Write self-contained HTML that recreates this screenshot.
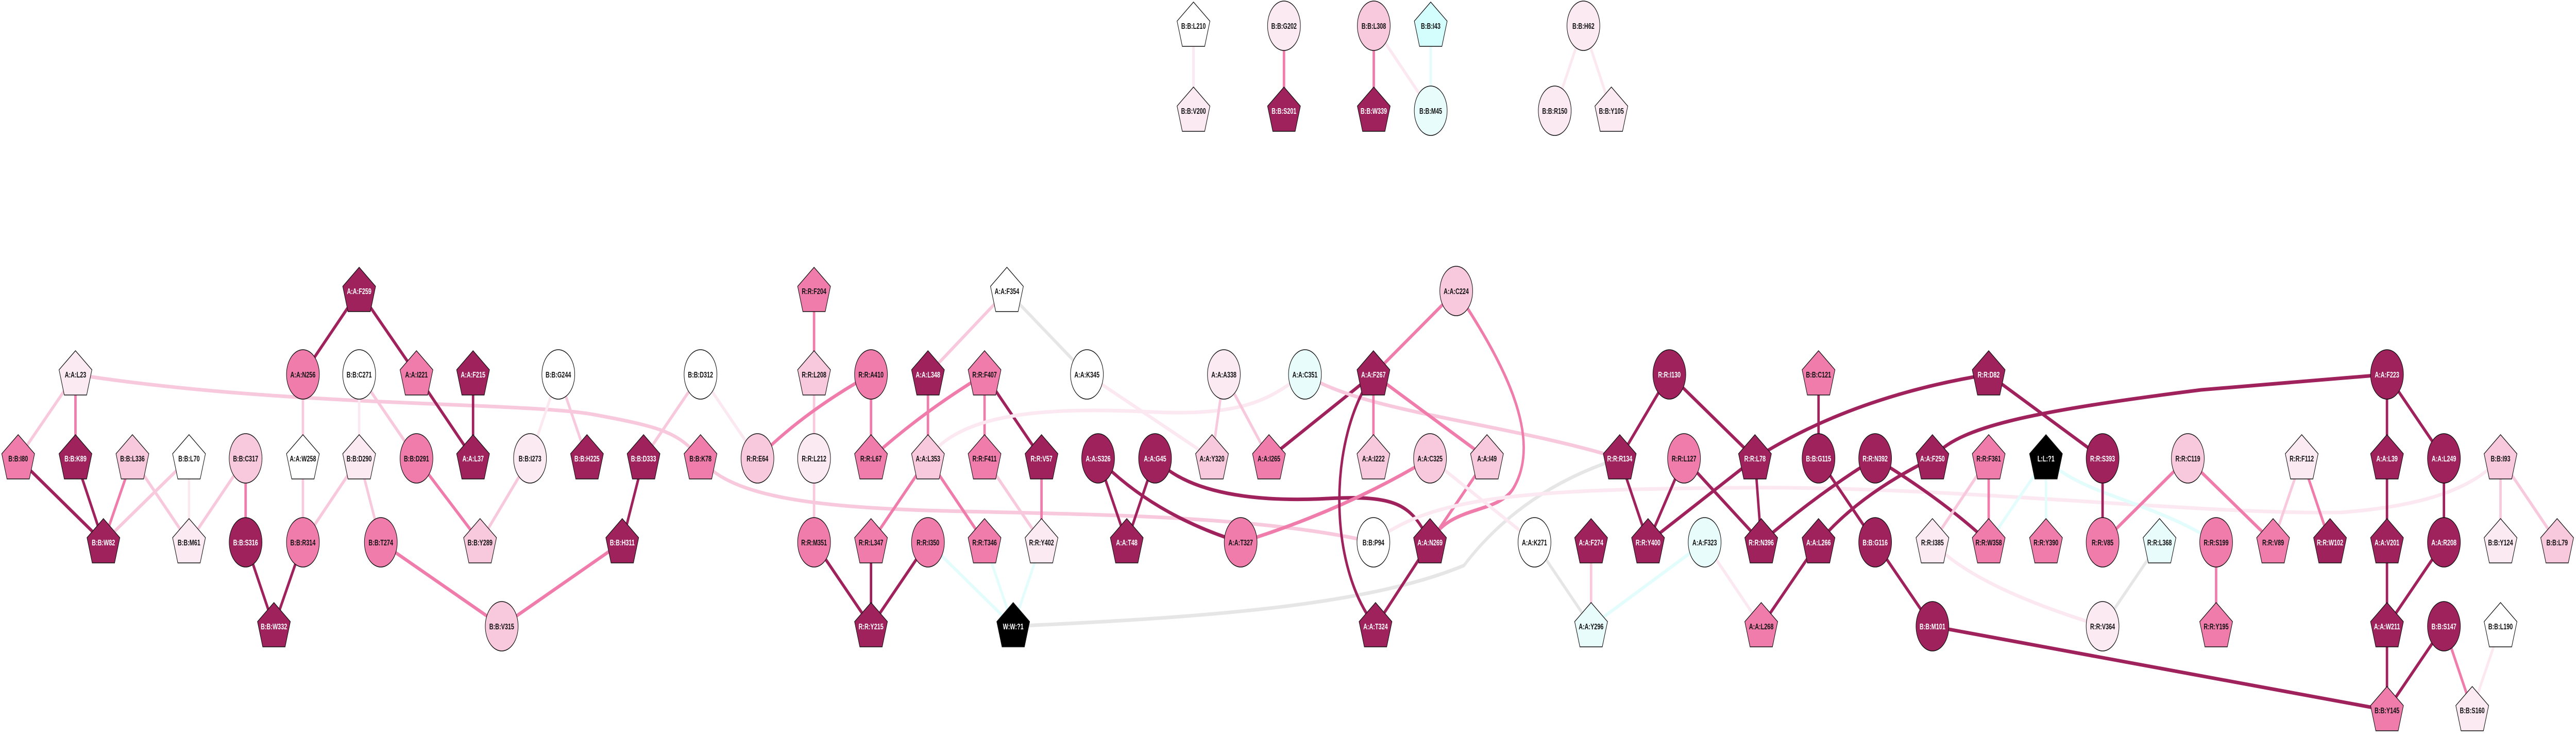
<!DOCTYPE html>
<html><head><meta charset="utf-8"><style>
html,body{margin:0;padding:0;background:#fff;width:100%;height:100%;overflow:hidden;}
svg{display:block;position:absolute;left:0;top:0;width:100vw;height:100vh;}
.n{stroke:#111;stroke-width:1.5;}
.d{fill:#a0225d}.m{fill:#ef7caa}.l{fill:#f8c8dc}.v{fill:#fbeaf2}.w{fill:#ffffff}.c{fill:#e8fcfc}.cy{fill:#d4fefe}.k{fill:#000}
text{font-family:"Liberation Sans",Arial,sans-serif;font-weight:bold;font-size:16px;text-anchor:middle;fill:#111;}
text.t{fill:#fff;}
path,line{fill:none;stroke-width:7;}
.ed{stroke:#a0225d}.em{stroke:#ef7caa}.el{stroke:#f8c8dc}.ev{stroke:#fbe8f0}.ec{stroke:#e3fdfd}.eg{stroke:#e6e6e6}
</style></head><body>
<svg viewBox="0 0 7373 1433" preserveAspectRatio="none" xmlns="http://www.w3.org/2000/svg">
<defs><polygon id="P" points="0,-46 47,-9 32,40 -32,40 -47,-9"/></defs>
<g>
<line class="ev" x1="3416" y1="50" x2="3416" y2="215"/>
<line class="em" x1="3675" y1="50" x2="3675" y2="215"/>
<line class="em" x1="3932" y1="50" x2="3932" y2="215"/>
<line class="ev" x1="3932" y1="50" x2="4095" y2="215"/>
<line class="ec" x1="4095" y1="50" x2="4095" y2="215"/>
<line class="ev" x1="4532" y1="50" x2="4450" y2="215"/>
<line class="ev" x1="4532" y1="50" x2="4612" y2="215"/>
<line class="ed" x1="1028" y1="565" x2="867" y2="727"/>
<line class="ed" x1="1028" y1="565" x2="1192" y2="727"/>
<path class="el" d="M216,727 C800,790 1500,780 1700,805 S1940,840 2005,890"/>
<path class="el" d="M2005,890 C2080,960 2300,985 2700,992 S3600,1000 3931,1053"/>
<line class="el" x1="216" y1="727" x2="52" y2="890"/>
<line class="em" x1="216" y1="727" x2="216" y2="890"/>
<line class="ed" x1="52" y1="890" x2="296" y2="1053"/>
<line class="ed" x1="216" y1="890" x2="296" y2="1053"/>
<line class="em" x1="379" y1="890" x2="296" y2="1053"/>
<line class="el" x1="541" y1="890" x2="296" y2="1053"/>
<line class="el" x1="379" y1="890" x2="541" y2="1053"/>
<line class="ev" x1="541" y1="890" x2="541" y2="1053"/>
<line class="el" x1="703" y1="890" x2="541" y2="1053"/>
<line class="em" x1="703" y1="890" x2="703" y2="1053"/>
<line class="el" x1="867" y1="727" x2="867" y2="890"/>
<line class="ev" x1="1028" y1="727" x2="1028" y2="890"/>
<line class="el" x1="1028" y1="727" x2="1192" y2="890"/>
<line class="el" x1="867" y1="890" x2="867" y2="1053"/>
<line class="el" x1="1028" y1="890" x2="867" y2="1053"/>
<line class="el" x1="1028" y1="890" x2="1090" y2="1053"/>
<line class="ed" x1="703" y1="1053" x2="784" y2="1216"/>
<line class="ed" x1="867" y1="1053" x2="784" y2="1216"/>
<line class="ed" x1="1192" y1="727" x2="1354" y2="890"/>
<line class="em" x1="1192" y1="890" x2="1374" y2="1053"/>
<line class="em" x1="1090" y1="1053" x2="1436" y2="1216"/>
<line class="ed" x1="1354" y1="727" x2="1354" y2="890"/>
<line class="ev" x1="1598" y1="727" x2="1517" y2="890"/>
<line class="el" x1="1598" y1="727" x2="1680" y2="890"/>
<line class="el" x1="1517" y1="890" x2="1374" y2="1053"/>
<line class="el" x1="2005" y1="727" x2="1842" y2="890"/>
<line class="ev" x1="2005" y1="727" x2="2168" y2="890"/>
<line class="ed" x1="1842" y1="890" x2="1781" y2="1053"/>
<line class="em" x1="1781" y1="1053" x2="1436" y2="1216"/>
<line class="em" x1="2330" y1="565" x2="2330" y2="727"/>
<line class="el" x1="2330" y1="727" x2="2330" y2="890"/>
<path class="em" d="M2493,727 Q2300,800 2168,890"/>
<line class="em" x1="2493" y1="727" x2="2493" y2="890"/>
<line class="el" x1="2330" y1="890" x2="2330" y2="1053"/>
<line class="ed" x1="2330" y1="1053" x2="2493" y2="1216"/>
<line class="ed" x1="2493" y1="1053" x2="2493" y2="1216"/>
<line class="ed" x1="2656" y1="1053" x2="2493" y2="1216"/>
<path class="em" d="M2818,727 Q2640,800 2493,890"/>
<line class="em" x1="2656" y1="890" x2="2493" y2="1053"/>
<line class="el" x1="2882" y1="565" x2="2656" y2="727"/>
<line class="eg" x1="2882" y1="565" x2="3111" y2="727"/>
<line class="em" x1="2656" y1="727" x2="2656" y2="890"/>
<line class="em" x1="2818" y1="727" x2="2818" y2="890"/>
<line class="ed" x1="2818" y1="727" x2="2981" y2="890"/>
<line class="em" x1="2656" y1="890" x2="2818" y2="1053"/>
<path class="ev" d="M2656,890 C2750,800 3000,790 3300,800 S3650,760 3735,727"/>
<line class="el" x1="2818" y1="890" x2="2981" y2="1053"/>
<line class="em" x1="2981" y1="890" x2="2981" y2="1053"/>
<line class="ev" x1="3111" y1="727" x2="3469" y2="890"/>
<line class="el" x1="3503" y1="727" x2="3469" y2="890"/>
<line class="el" x1="3503" y1="727" x2="3632" y2="890"/>
<line class="ed" x1="3632" y1="890" x2="3931" y2="727"/>
<line class="ed" x1="3143" y1="890" x2="3225" y2="1053"/>
<line class="ed" x1="3306" y1="890" x2="3225" y2="1053"/>
<path class="ed" d="M3143,890 Q3300,1000 3551,1053"/>
<path class="ed" d="M3306,890 C3400,960 3600,975 3800,968 S4040,980 4093,1053"/>
<path class="em" d="M3551,1053 Q3850,990 4093,890"/>
<line class="ec" x1="2656" y1="1053" x2="2900" y2="1216"/>
<line class="ec" x1="2818" y1="1053" x2="2900" y2="1216"/>
<line class="ec" x1="2981" y1="1053" x2="2900" y2="1216"/>
<path class="eg" d="M2900,1216 C3400,1200 3900,1180 4190,1098 C4300,1000 4450,930 4636,890"/>
<path class="el" d="M3735,727 C3900,800 4300,820 4636,890"/>
<line class="em" x1="4168" y1="565" x2="3931" y2="727"/>
<path class="em" d="M4168,565 C4300,700 4420,850 4330,950 C4280,1000 4150,980 4093,1053"/>
<line class="em" x1="3931" y1="727" x2="3931" y2="890"/>
<line class="em" x1="3931" y1="727" x2="4256" y2="890"/>
<path class="ed" d="M3931,727 C3800,850 3800,1100 3937,1216"/>
<line class="em" x1="4256" y1="890" x2="4093" y2="1053"/>
<line class="ev" x1="4093" y1="890" x2="4392" y2="1053"/>
<path class="ev" d="M3931,1053 C4100,960 4400,950 5000,947 S6300,1000 6700,995 C7000,980 7100,930 7157,890"/>
<line class="ed" x1="4093" y1="1053" x2="3937" y2="1216"/>
<line class="eg" x1="4392" y1="1053" x2="4554" y2="1216"/>
<line class="el" x1="4554" y1="1053" x2="4554" y2="1216"/>
<line class="ec" x1="4879" y1="1053" x2="4554" y2="1216"/>
<line class="ev" x1="4879" y1="1053" x2="5041" y2="1216"/>
<line class="ed" x1="4778" y1="727" x2="4636" y2="890"/>
<line class="ed" x1="4778" y1="727" x2="5023" y2="890"/>
<line class="ed" x1="4636" y1="890" x2="4717" y2="1053"/>
<line class="ed" x1="4820" y1="890" x2="4717" y2="1053"/>
<line class="ed" x1="5023" y1="890" x2="4717" y2="1053"/>
<line class="ed" x1="4820" y1="890" x2="5041" y2="1053"/>
<line class="ed" x1="5023" y1="890" x2="5041" y2="1053"/>
<path class="ed" d="M5692,727 Q5300,770 5023,890"/>
<line class="ed" x1="5692" y1="727" x2="6018" y2="890"/>
<line class="ed" x1="5205" y1="727" x2="5205" y2="890"/>
<line class="ed" x1="5205" y1="890" x2="5367" y2="1053"/>
<path class="ed" d="M5367,890 Q5200,960 5041,1053"/>
<path class="ed" d="M5367,890 Q5560,970 5692,1053"/>
<path class="ed" d="M5531,890 Q5320,960 5205,1053"/>
<path class="ed" d="M5531,890 C5600,830 5800,800 6300,757 L6832,727"/>
<line class="ed" x1="5205" y1="1053" x2="5041" y2="1216"/>
<line class="el" x1="5692" y1="890" x2="5531" y2="1053"/>
<line class="em" x1="5692" y1="890" x2="5692" y2="1053"/>
<line class="ec" x1="5856" y1="890" x2="5692" y2="1053"/>
<line class="ec" x1="5856" y1="890" x2="5856" y2="1053"/>
<path class="ec" d="M5856,890 C5950,960 6150,970 6343,1053"/>
<line class="ed" x1="6018" y1="890" x2="6018" y2="1053"/>
<line class="em" x1="6260" y1="890" x2="6018" y2="1053"/>
<path class="ev" d="M5531,1053 Q5650,1140 6018,1216"/>
<line class="eg" x1="6181" y1="1053" x2="6018" y2="1216"/>
<line class="ed" x1="5367" y1="1053" x2="5531" y2="1216"/>
<line class="ed" x1="5531" y1="1216" x2="6832" y2="1379"/>
<line class="em" x1="6260" y1="890" x2="6506" y2="1053"/>
<line class="el" x1="6588" y1="890" x2="6506" y2="1053"/>
<line class="em" x1="6588" y1="890" x2="6669" y2="1053"/>
<line class="ed" x1="6832" y1="727" x2="6832" y2="890"/>
<line class="ed" x1="6832" y1="727" x2="6995" y2="890"/>
<line class="ed" x1="6832" y1="890" x2="6832" y2="1053"/>
<line class="ed" x1="6995" y1="890" x2="6995" y2="1053"/>
<line class="ed" x1="6832" y1="1053" x2="6832" y2="1216"/>
<line class="ed" x1="6995" y1="1053" x2="6832" y2="1216"/>
<line class="el" x1="7157" y1="890" x2="7157" y2="1053"/>
<line class="el" x1="7157" y1="890" x2="7319" y2="1053"/>
<line class="em" x1="6343" y1="1053" x2="6343" y2="1216"/>
<line class="ed" x1="6832" y1="1216" x2="6832" y2="1379"/>
<line class="ed" x1="6995" y1="1216" x2="6832" y2="1379"/>
<line class="em" x1="6995" y1="1216" x2="7076" y2="1379"/>
<line class="ev" x1="7157" y1="1216" x2="7076" y2="1379"/>
</g>
<g>
<g transform="translate(3416,50)"><use href="#P" class="n w"/><text y="6">B:B:L210</text></g>
<g transform="translate(3416,215)"><use href="#P" class="n v"/><text y="6">B:B:V200</text></g>
<g transform="translate(3675,50)"><ellipse rx="47" ry="48" class="n v"/><text y="6">B:B:G202</text></g>
<g transform="translate(3675,215)"><use href="#P" class="n d"/><text y="6" class="t">B:B:S201</text></g>
<g transform="translate(3932,50)"><ellipse rx="47" ry="48" class="n l"/><text y="6">B:B:L308</text></g>
<g transform="translate(3932,215)"><use href="#P" class="n d"/><text y="6" class="t">B:B:W339</text></g>
<g transform="translate(4095,50)"><use href="#P" class="n cy"/><text y="6">B:B:I43</text></g>
<g transform="translate(4095,215)"><ellipse rx="47" ry="48" class="n c"/><text y="6">B:B:M45</text></g>
<g transform="translate(4532,50)"><ellipse rx="47" ry="48" class="n v"/><text y="6">B:B:H62</text></g>
<g transform="translate(4450,215)"><ellipse rx="47" ry="48" class="n v"/><text y="6">B:B:R150</text></g>
<g transform="translate(4612,215)"><use href="#P" class="n v"/><text y="6">B:B:Y105</text></g>
<g transform="translate(1028,565)"><use href="#P" class="n d"/><text y="6" class="t">A:A:F259</text></g>
<g transform="translate(216,727)"><use href="#P" class="n v"/><text y="6">A:A:L23</text></g>
<g transform="translate(867,727)"><ellipse rx="47" ry="48" class="n m"/><text y="6">A:A:N256</text></g>
<g transform="translate(1028,727)"><ellipse rx="47" ry="48" class="n w"/><text y="6">B:B:C271</text></g>
<g transform="translate(1192,727)"><use href="#P" class="n m"/><text y="6">A:A:I221</text></g>
<g transform="translate(52,890)"><use href="#P" class="n m"/><text y="6">B:B:I80</text></g>
<g transform="translate(216,890)"><use href="#P" class="n d"/><text y="6" class="t">B:B:K89</text></g>
<g transform="translate(379,890)"><use href="#P" class="n l"/><text y="6">B:B:L336</text></g>
<g transform="translate(541,890)"><use href="#P" class="n w"/><text y="6">B:B:L70</text></g>
<g transform="translate(703,890)"><ellipse rx="47" ry="48" class="n l"/><text y="6">B:B:C317</text></g>
<g transform="translate(867,890)"><use href="#P" class="n w"/><text y="6">A:A:W258</text></g>
<g transform="translate(1028,890)"><use href="#P" class="n v"/><text y="6">B:B:D290</text></g>
<g transform="translate(1192,890)"><ellipse rx="47" ry="48" class="n m"/><text y="6">B:B:D291</text></g>
<g transform="translate(296,1053)"><use href="#P" class="n d"/><text y="6" class="t">B:B:W82</text></g>
<g transform="translate(541,1053)"><use href="#P" class="n v"/><text y="6">B:B:M61</text></g>
<g transform="translate(703,1053)"><ellipse rx="47" ry="48" class="n d"/><text y="6" class="t">B:B:S316</text></g>
<g transform="translate(867,1053)"><ellipse rx="47" ry="48" class="n m"/><text y="6">B:B:R314</text></g>
<g transform="translate(1090,1053)"><ellipse rx="47" ry="48" class="n m"/><text y="6">B:B:T274</text></g>
<g transform="translate(784,1216)"><use href="#P" class="n d"/><text y="6" class="t">B:B:W332</text></g>
<g transform="translate(1354,727)"><use href="#P" class="n d"/><text y="6" class="t">A:A:F215</text></g>
<g transform="translate(1598,727)"><ellipse rx="47" ry="48" class="n w"/><text y="6">B:B:G244</text></g>
<g transform="translate(2005,727)"><ellipse rx="47" ry="48" class="n w"/><text y="6">B:B:D312</text></g>
<g transform="translate(2330,565)"><use href="#P" class="n m"/><text y="6">R:R:F204</text></g>
<g transform="translate(2330,727)"><use href="#P" class="n l"/><text y="6">R:R:L208</text></g>
<g transform="translate(2493,727)"><ellipse rx="47" ry="48" class="n m"/><text y="6">R:R:A410</text></g>
<g transform="translate(1354,890)"><use href="#P" class="n d"/><text y="6" class="t">A:A:L37</text></g>
<g transform="translate(1517,890)"><ellipse rx="47" ry="48" class="n v"/><text y="6">B:B:I273</text></g>
<g transform="translate(1680,890)"><use href="#P" class="n d"/><text y="6" class="t">B:B:H225</text></g>
<g transform="translate(1842,890)"><use href="#P" class="n d"/><text y="6" class="t">B:B:D333</text></g>
<g transform="translate(2005,890)"><use href="#P" class="n m"/><text y="6">B:B:K78</text></g>
<g transform="translate(2168,890)"><ellipse rx="47" ry="48" class="n l"/><text y="6">R:R:E64</text></g>
<g transform="translate(2330,890)"><ellipse rx="47" ry="48" class="n v"/><text y="6">R:R:L212</text></g>
<g transform="translate(2493,890)"><use href="#P" class="n m"/><text y="6">R:R:L67</text></g>
<g transform="translate(1374,1053)"><use href="#P" class="n l"/><text y="6">B:B:Y289</text></g>
<g transform="translate(1781,1053)"><use href="#P" class="n d"/><text y="6" class="t">B:B:H311</text></g>
<g transform="translate(2330,1053)"><ellipse rx="47" ry="48" class="n m"/><text y="6">R:R:M351</text></g>
<g transform="translate(2493,1053)"><use href="#P" class="n m"/><text y="6">R:R:L347</text></g>
<g transform="translate(1436,1216)"><ellipse rx="47" ry="48" class="n l"/><text y="6">B:B:V315</text></g>
<g transform="translate(2493,1216)"><use href="#P" class="n d"/><text y="6" class="t">R:R:Y215</text></g>
<g transform="translate(2882,565)"><use href="#P" class="n w"/><text y="6">A:A:F354</text></g>
<g transform="translate(2656,727)"><use href="#P" class="n d"/><text y="6" class="t">A:A:L348</text></g>
<g transform="translate(2818,727)"><use href="#P" class="n m"/><text y="6">R:R:F407</text></g>
<g transform="translate(3111,727)"><ellipse rx="47" ry="48" class="n w"/><text y="6">A:A:K345</text></g>
<g transform="translate(3503,727)"><ellipse rx="47" ry="48" class="n v"/><text y="6">A:A:A338</text></g>
<g transform="translate(3735,727)"><ellipse rx="47" ry="48" class="n c"/><text y="6">A:A:C351</text></g>
<g transform="translate(2656,890)"><use href="#P" class="n l"/><text y="6">A:A:L353</text></g>
<g transform="translate(2818,890)"><use href="#P" class="n m"/><text y="6">R:R:F411</text></g>
<g transform="translate(2981,890)"><use href="#P" class="n d"/><text y="6" class="t">R:R:V57</text></g>
<g transform="translate(3143,890)"><ellipse rx="47" ry="48" class="n d"/><text y="6" class="t">A:A:S326</text></g>
<g transform="translate(3306,890)"><ellipse rx="47" ry="48" class="n d"/><text y="6" class="t">A:A:G45</text></g>
<g transform="translate(3469,890)"><use href="#P" class="n l"/><text y="6">A:A:Y320</text></g>
<g transform="translate(3632,890)"><use href="#P" class="n m"/><text y="6">A:A:I265</text></g>
<g transform="translate(2656,1053)"><ellipse rx="47" ry="48" class="n m"/><text y="6">R:R:I350</text></g>
<g transform="translate(2818,1053)"><use href="#P" class="n m"/><text y="6">R:R:T346</text></g>
<g transform="translate(2981,1053)"><use href="#P" class="n v"/><text y="6">R:R:Y402</text></g>
<g transform="translate(3225,1053)"><use href="#P" class="n d"/><text y="6" class="t">A:A:T48</text></g>
<g transform="translate(3551,1053)"><ellipse rx="47" ry="48" class="n m"/><text y="6">A:A:T327</text></g>
<g transform="translate(2900,1216)"><use href="#P" class="n k"/><text y="6" class="t">W:W:?1</text></g>
<g transform="translate(4168,565)"><ellipse rx="47" ry="48" class="n l"/><text y="6">A:A:C224</text></g>
<g transform="translate(3931,727)"><use href="#P" class="n d"/><text y="6" class="t">A:A:F267</text></g>
<g transform="translate(4778,727)"><ellipse rx="47" ry="48" class="n d"/><text y="6" class="t">R:R:I130</text></g>
<g transform="translate(3931,890)"><use href="#P" class="n l"/><text y="6">A:A:I222</text></g>
<g transform="translate(4093,890)"><ellipse rx="47" ry="48" class="n l"/><text y="6">A:A:C325</text></g>
<g transform="translate(4256,890)"><use href="#P" class="n l"/><text y="6">A:A:I49</text></g>
<g transform="translate(4636,890)"><use href="#P" class="n d"/><text y="6" class="t">R:R:R134</text></g>
<g transform="translate(4820,890)"><ellipse rx="47" ry="48" class="n m"/><text y="6">R:R:L127</text></g>
<g transform="translate(5023,890)"><use href="#P" class="n d"/><text y="6" class="t">R:R:L78</text></g>
<g transform="translate(3931,1053)"><ellipse rx="47" ry="48" class="n w"/><text y="6">B:B:P94</text></g>
<g transform="translate(4093,1053)"><use href="#P" class="n d"/><text y="6" class="t">A:A:N269</text></g>
<g transform="translate(4392,1053)"><ellipse rx="47" ry="48" class="n w"/><text y="6">A:A:K271</text></g>
<g transform="translate(4554,1053)"><use href="#P" class="n d"/><text y="6" class="t">A:A:F274</text></g>
<g transform="translate(4717,1053)"><use href="#P" class="n d"/><text y="6" class="t">R:R:Y400</text></g>
<g transform="translate(4879,1053)"><ellipse rx="47" ry="48" class="n c"/><text y="6">A:A:F323</text></g>
<g transform="translate(5041,1053)"><use href="#P" class="n d"/><text y="6" class="t">R:R:N396</text></g>
<g transform="translate(3937,1216)"><use href="#P" class="n d"/><text y="6" class="t">A:A:T324</text></g>
<g transform="translate(4554,1216)"><use href="#P" class="n c"/><text y="6">A:A:Y296</text></g>
<g transform="translate(5041,1216)"><use href="#P" class="n m"/><text y="6">A:A:L268</text></g>
<g transform="translate(5205,727)"><use href="#P" class="n m"/><text y="6">B:B:C121</text></g>
<g transform="translate(5692,727)"><use href="#P" class="n d"/><text y="6" class="t">R:R:D82</text></g>
<g transform="translate(5205,890)"><ellipse rx="47" ry="48" class="n d"/><text y="6" class="t">B:B:G115</text></g>
<g transform="translate(5367,890)"><ellipse rx="47" ry="48" class="n d"/><text y="6" class="t">R:R:N392</text></g>
<g transform="translate(5531,890)"><use href="#P" class="n d"/><text y="6" class="t">A:A:F250</text></g>
<g transform="translate(5692,890)"><use href="#P" class="n m"/><text y="6">R:R:F361</text></g>
<g transform="translate(5856,890)"><use href="#P" class="n k"/><text y="6" class="t">L:L:?1</text></g>
<g transform="translate(6018,890)"><ellipse rx="47" ry="48" class="n d"/><text y="6" class="t">R:R:S393</text></g>
<g transform="translate(6262,890)"><ellipse rx="47" ry="48" class="n l"/><text y="6">R:R:C119</text></g>
<g transform="translate(5205,1053)"><use href="#P" class="n d"/><text y="6" class="t">A:A:L266</text></g>
<g transform="translate(5367,1053)"><ellipse rx="47" ry="48" class="n d"/><text y="6" class="t">B:B:G116</text></g>
<g transform="translate(5531,1053)"><use href="#P" class="n v"/><text y="6">R:R:I385</text></g>
<g transform="translate(5692,1053)"><use href="#P" class="n m"/><text y="6">R:R:W358</text></g>
<g transform="translate(5856,1053)"><use href="#P" class="n m"/><text y="6">R:R:Y390</text></g>
<g transform="translate(6018,1053)"><ellipse rx="47" ry="48" class="n m"/><text y="6">R:R:V85</text></g>
<g transform="translate(6181,1053)"><use href="#P" class="n c"/><text y="6">R:R:L368</text></g>
<g transform="translate(5531,1216)"><ellipse rx="47" ry="48" class="n d"/><text y="6" class="t">B:B:M101</text></g>
<g transform="translate(6018,1216)"><ellipse rx="47" ry="48" class="n v"/><text y="6">R:R:V364</text></g>
<g transform="translate(6832,727)"><ellipse rx="47" ry="48" class="n d"/><text y="6" class="t">A:A:F223</text></g>
<g transform="translate(6588,890)"><use href="#P" class="n v"/><text y="6">R:R:F112</text></g>
<g transform="translate(6832,890)"><use href="#P" class="n d"/><text y="6" class="t">A:A:L39</text></g>
<g transform="translate(6995,890)"><ellipse rx="47" ry="48" class="n d"/><text y="6" class="t">A:A:L249</text></g>
<g transform="translate(7157,890)"><use href="#P" class="n l"/><text y="6">B:B:I93</text></g>
<g transform="translate(6343,1053)"><ellipse rx="47" ry="48" class="n m"/><text y="6">R:R:S199</text></g>
<g transform="translate(6506,1053)"><use href="#P" class="n m"/><text y="6">R:R:V89</text></g>
<g transform="translate(6669,1053)"><use href="#P" class="n d"/><text y="6" class="t">R:R:W102</text></g>
<g transform="translate(6832,1053)"><use href="#P" class="n d"/><text y="6" class="t">A:A:V201</text></g>
<g transform="translate(6995,1053)"><ellipse rx="47" ry="48" class="n d"/><text y="6" class="t">A:A:R208</text></g>
<g transform="translate(7157,1053)"><use href="#P" class="n v"/><text y="6">B:B:Y124</text></g>
<g transform="translate(7319,1053)"><use href="#P" class="n l"/><text y="6">B:B:L79</text></g>
<g transform="translate(6343,1216)"><use href="#P" class="n m"/><text y="6">R:R:Y195</text></g>
<g transform="translate(6832,1216)"><use href="#P" class="n d"/><text y="6" class="t">A:A:W211</text></g>
<g transform="translate(6995,1216)"><ellipse rx="47" ry="48" class="n d"/><text y="6" class="t">B:B:S147</text></g>
<g transform="translate(7157,1216)"><use href="#P" class="n w"/><text y="6">B:B:L190</text></g>
<g transform="translate(6832,1379)"><use href="#P" class="n m"/><text y="6">B:B:Y145</text></g>
<g transform="translate(7076,1379)"><use href="#P" class="n v"/><text y="6">B:B:S160</text></g>
</g>
</svg>
</body></html>
